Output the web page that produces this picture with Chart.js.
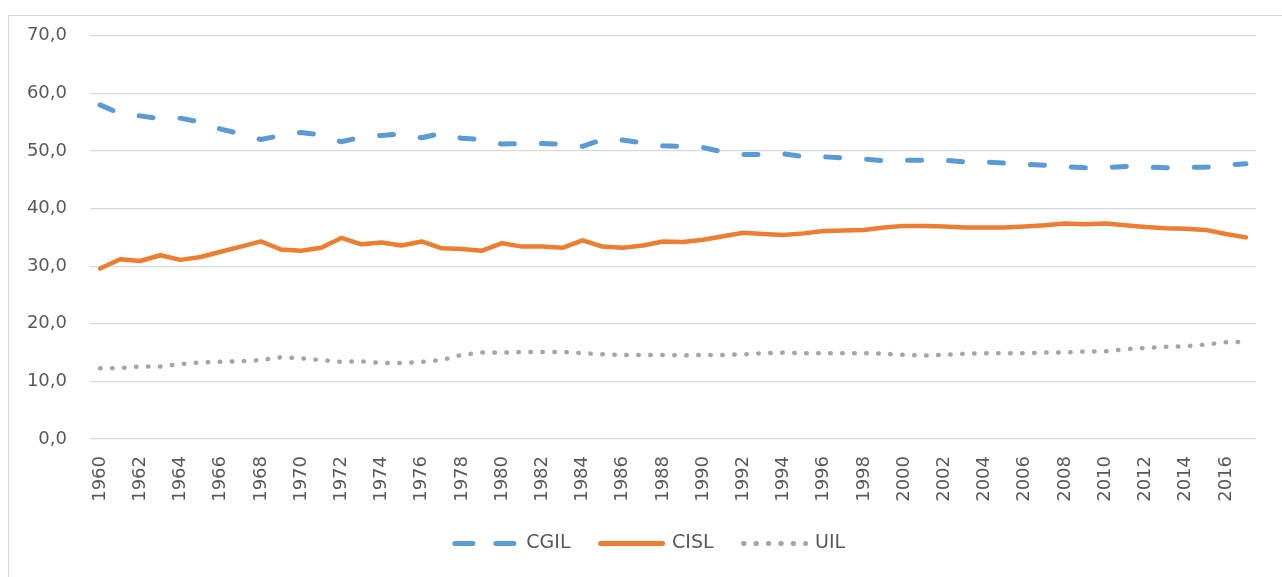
<!DOCTYPE html>
<html>
<head>
<meta charset="utf-8">
<script src="https://cdn.jsdelivr.net/npm/chart.js@4.4.1/dist/chart.umd.min.js"></script>
<style>
  html, body { margin: 0; padding: 0; background: #ffffff; overflow: hidden; width: 1282px; height: 577px; }
  #frame { position: absolute; left: 8px; top: 15px; width: 1300px; height: 600px; border: 1px solid #d9d9d9; box-sizing: border-box; }
  #c { position: absolute; left: 8px; top: 2px; }
</style>
</head>
<body>
<div id="frame"></div>
<canvas id="c" width="1284" height="561"></canvas>
<script>
const years = ['1960','1961','1962','1963','1964','1965','1966','1967','1968','1969',
  '1970','1971','1972','1973','1974','1975','1976','1977','1978','1979',
  '1980','1981','1982','1983','1984','1985','1986','1987','1988','1989',
  '1990','1991','1992','1993','1994','1995','1996','1997','1998','1999',
  '2000','2001','2002','2003','2004','2005','2006','2007','2008','2009',
  '2010','2011','2012','2013','2014','2015','2016','2017'];

const cgil = [58.0,56.5,56.1,55.6,55.7,55.0,53.8,53.0,52.0,52.7,
  53.2,52.8,51.6,52.4,52.7,53.0,52.3,53.1,52.2,52.0,
  51.2,51.3,51.3,51.2,50.8,52.0,51.9,51.4,50.9,50.8,
  50.6,49.8,49.4,49.4,49.5,49.0,49.0,48.8,48.6,48.3,
  48.4,48.4,48.4,48.1,48.1,47.9,47.7,47.5,47.3,47.1,
  47.1,47.3,47.2,47.1,47.2,47.2,47.5,47.8];

const cisl = [29.6,31.2,30.9,31.9,31.1,31.6,32.5,33.4,34.3,32.9,
  32.7,33.2,34.9,33.8,34.1,33.6,34.3,33.1,33.0,32.7,
  34.0,33.4,33.4,33.2,34.5,33.4,33.2,33.6,34.3,34.2,
  34.6,35.2,35.8,35.6,35.4,35.7,36.1,36.2,36.3,36.7,
  37.0,37.0,36.9,36.7,36.7,36.7,36.9,37.1,37.4,37.3,
  37.4,37.1,36.8,36.6,36.5,36.3,35.6,35.0];

const uil = [12.3,12.3,12.6,12.6,13.0,13.3,13.4,13.5,13.7,14.2,
  14.0,13.7,13.4,13.5,13.2,13.2,13.4,13.7,14.6,15.0,
  15.0,15.1,15.1,15.1,14.9,14.7,14.6,14.6,14.6,14.5,
  14.6,14.6,14.7,14.9,15.0,14.9,14.9,14.9,14.9,14.8,
  14.6,14.5,14.6,14.8,14.9,14.9,14.9,15.0,15.0,15.2,
  15.2,15.6,15.8,16.0,16.1,16.4,16.8,16.9];

const yTickLabels = ['0,0','10,0','20,0','30,0','40,0','50,0','60,0','70,0'];
const seriesNames = ['CGIL','CISL','UIL'];

const textColor = '#595959';
const fontFamily = '"DejaVu Sans", sans-serif';

const legendShift = {
  id: 'legendShift',
  afterLayout(chart) {
    if (chart.legend) {
      chart.legend.left += 18;
      chart.legend.right += 18;
    }
  }
};

new Chart(document.getElementById('c'), {
  type: 'line',
  data: {
    labels: years,
    datasets: [
      { label: seriesNames[0], data: cgil, borderColor: '#5B9BD5', backgroundColor: '#5B9BD5',
        borderWidth: 5, borderDash: [14, 27], borderCapStyle: 'round', borderJoinStyle: 'round',
        pointRadius: 0, tension: 0, fill: false },
      { label: seriesNames[1], data: cisl, borderColor: '#ED7D31', backgroundColor: '#ED7D31',
        borderWidth: 4.5, borderCapStyle: 'round', borderJoinStyle: 'round',
        pointRadius: 0, tension: 0, fill: false },
      { label: seriesNames[2], data: uil, borderColor: '#A5A5A5', backgroundColor: '#A5A5A5',
        borderWidth: 4.5, borderDash: [0.5, 11.5], borderCapStyle: 'round', borderJoinStyle: 'round',
        pointRadius: 0, tension: 0, fill: false }
    ]
  },
  plugins: [legendShift],
  options: {
    responsive: false,
    animation: false,
    devicePixelRatio: 1,
    layout: { padding: { left: 0, right: 36, top: 7, bottom: 0 } },
    plugins: {
      tooltip: { enabled: false },
      legend: {
        position: 'bottom',
        align: 'center',
        labels: {
          color: textColor,
          font: { family: fontFamily, size: 19 },
          usePointStyle: true,
          pointStyle: 'line',
          pointStyleWidth: 62,
          padding: 30,
          generateLabels(chart) {
            const items = Chart.defaults.plugins.legend.labels.generateLabels(chart);
            items.forEach((it, i) => {
              it.pointStyle = 'line';
              it.lineCap = 'round';
              it.lineWidth = 5;
              if (i === 0) it.lineDash = [18, 23];
              if (i === 2) it.lineDash = [0.5, 11.9];
            });
            return items;
          }
        }
      }
    },
    scales: {
      x: {
        type: 'category',
        offset: true,
        grid: { display: false, drawTicks: false },
        border: { display: false },
        afterFit(scale) { scale.height = 65; },
        ticks: {
          autoSkip: false,
          minRotation: 90,
          maxRotation: 90,
          padding: 17,
          color: textColor,
          font: { family: fontFamily, size: 18 },
          callback(value, index) { return index % 2 === 0 ? years[index] : ''; }
        }
      },
      y: {
        min: 0,
        max: 70,
        grid: { color: '#d9d9d9', lineWidth: 1.3, drawTicks: false },
        border: { display: false },
        afterFit(scale) { scale.width = 82; },
        ticks: {
          stepSize: 10,
          padding: 23,
          color: textColor,
          font: { family: fontFamily, size: 18 },
          callback(value) { return yTickLabels[Math.round(value / 10)]; }
        }
      }
    }
  }
});
</script>
</body>
</html>
